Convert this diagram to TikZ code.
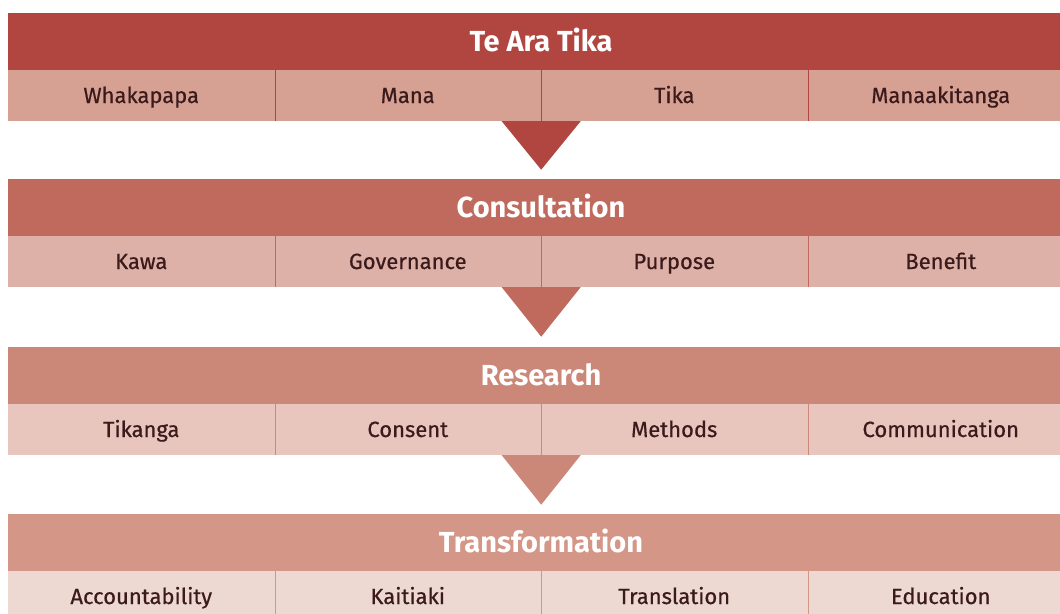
\documentclass[tikz,border=0pt]{standalone}
\usepackage{fontspec}
\setmainfont{Fira Sans}[FakeBold=0.5, BoldFont={Fira Sans Bold}, BoldFeatures={FakeBold=0}]
\usepackage{tikz}
\definecolor{headA}{HTML}{B0463F}
\definecolor{rowA}{HTML}{D6A193}
\definecolor{headB}{HTML}{C06A5E}
\definecolor{rowB}{HTML}{DDB1A7}
\definecolor{headC}{HTML}{CB8878}
\definecolor{rowC}{HTML}{E8C5BD}
\definecolor{headD}{HTML}{D49686}
\definecolor{rowD}{HTML}{EED8D2}
\definecolor{ink}{HTML}{3B1A1C}
\tikzstyle{kopa}=[rectangle, minimum width=1066pt, minimum height=57pt, inner sep=0pt, text height=20pt, text depth=0pt, text=white, font=\fontsize{29}{32}\selectfont\bfseries]
\tikzstyle{pou}=[rectangle, minimum width=266.5pt, minimum height=51pt, inner sep=0pt, text height=15pt, text depth=0pt, text=ink, font=\fontsize{22}{25}\selectfont]

\begin{document}
\begin{tikzpicture}[x=1pt, y=-1pt]
			\useasboundingbox (0,0) rectangle (1060,613);
			\begin{scope}
			\clip (0,0) rectangle (1060,613);
			% Te Ara Tika
			\node[kopa, fill=headA] (tearatika) at (541,41.5) {Te Ara Tika};
			\node[pou, fill=rowA] (whakapapa) at (141.25,95.5) {Whakapapa};
			\node[pou, fill=rowA] (mana) at (407.75,95.5) {Mana};
			\node[pou, fill=rowA] (tika) at (674.25,95.5) {Tika};
			\node[pou, fill=rowA] (manaaki) at (940.75,95.5) {Manaakitanga};
			\path[draw=headA] (whakapapa.north east)--(whakapapa.south east)(mana.north east)--(mana.south east)(tika.north east)--(tika.south east);
			\fill[headA] (mana.south east) ++(-39.5,0) -- ++(39.5,48.5) -- ++(39.5,-48.5) -- cycle;
			% Consultation
			\node[kopa, fill=headB] (consultation) at (541,207) {Consultation};
			\node[pou, fill=rowB] (kawa) at (141.25,261.5) {Kawa};
			\node[pou, fill=rowB] (governance) at (407.75,261.5) {Governance};
			\node[pou, fill=rowB] (purpose) at (674.25,261.5) {Purpose};
			\node[pou, fill=rowB] (benefit) at (940.75,261.5) {Benefit};
			\path[draw=headB] (kawa.north east)--(kawa.south east)(governance.north east)--(governance.south east)(purpose.north east)--(purpose.south east);
			\fill[headB] (governance.south east) ++(-39.5,0) -- ++(39.5,49.5) -- ++(39.5,-49.5) -- cycle;
			% Research
			\node[kopa, fill=headC] (research) at (541,375) {Research};
			\node[pou, fill=rowC] (tikanga) at (141.25,429.5) {Tikanga};
			\node[pou, fill=rowC] (consent) at (407.75,429.5) {Consent};
			\node[pou, fill=rowC] (methods) at (674.25,429.5) {Methods};
			\node[pou, fill=rowC] (communication) at (940.75,429.5) {Communication};
			\path[draw=headC] (tikanga.north east)--(tikanga.south east)(consent.north east)--(consent.south east)(methods.north east)--(methods.south east);
			\fill[headC] (consent.south east) ++(-39.5,0) -- ++(39.5,49.5) -- ++(39.5,-49.5) -- cycle;
			% Transformation
			\node[kopa, fill=headD] (transformation) at (541,542.5) {Transformation};
			\node[pou, fill=rowD] (accountability) at (141.25,596.5) {Accountability};
			\node[pou, fill=rowD] (kaitiaki) at (407.75,596.5) {Kaitiaki};
			\node[pou, fill=rowD] (translation) at (674.25,596.5) {Translation};
			\node[pou, fill=rowD] (education) at (940.75,596.5) {Education};
			\path[draw=headD] (accountability.north east)--(accountability.south east)(kaitiaki.north east)--(kaitiaki.south east)(translation.north east)--(translation.south east);
			\end{scope}
		\end{tikzpicture}
\end{document}
